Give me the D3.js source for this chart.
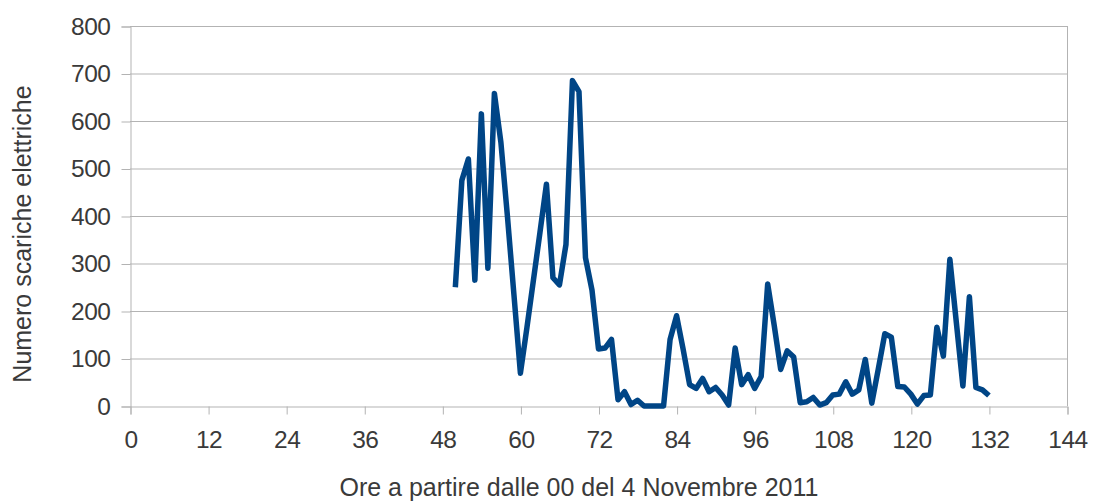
<!DOCTYPE html>
<html>
<head>
<meta charset="utf-8">
<script src="https://cdn.jsdelivr.net/npm/d3@7/dist/d3.min.js"></script>
<style>
  html, body { margin: 0; padding: 0; background: #fff; }
  svg { display: block; font-family: "Liberation Sans", Arial, sans-serif; }
</style>
</head>
<body>
<svg id="chart" width="1094" height="503"></svg>
<script>
// Hours counted from 00:00 on 4 November 2011
const hours = d3.range(50, 133);
// Number of electrical discharges per hour
const discharges = [
  250, 475, 520, 265, 615, 290, 658, 555, 400, 235,
   69, 165, 265, 365, 467, 270, 255, 340, 685, 662,
  312, 244, 120, 122, 140,  13,  30,   3,  12,   0,
    0,   0,   0, 140, 190, 120,  45,  37,  58,  30,
   39,  23,   2, 122,  45,  66,  37,  62, 257, 170,
   77, 116, 103,   7,   9,  18,   2,   7,  23,  25,
   51,  25,  34,  98,   6,  78, 152, 145,  41,  40,
   25,   4,  22,  23, 166, 105, 309, 175,  42, 230,
   39,  34,  22
];
const xTicks = d3.range(0, 145, 12);
const yTicks = d3.range(0, 801, 100);
const xTitle = "Ore a partire dalle 00 del 4 Novembre 2011";
const yTitle = "Numero scariche elettriche";

const svg = d3.select("#chart");
const plotLeft = 130, plotRight = 1067, plotTop = 26, plotBottom = 406;
const grid = "#b3b3b3", textCol = "#3a3a3a";
const tickFont = 24.5, titleFont = 25;

const x = d3.scaleLinear().domain([0, 144]).range([plotLeft, plotRight]);
const y = d3.scaleLinear().domain([0, 800]).range([plotBottom, plotTop]);

// horizontal gridlines
svg.append("g").selectAll("line").data(yTicks.filter(v => v > 0)).join("line")
  .attr("x1", plotLeft).attr("x2", plotRight)
  .attr("y1", d => y(d) + 0.5).attr("y2", d => y(d) + 0.5)
  .attr("stroke", grid).attr("stroke-width", 1);

// right edge of plot area
svg.append("line")
  .attr("x1", plotRight + 0.5).attr("x2", plotRight + 0.5)
  .attr("y1", plotTop).attr("y2", plotBottom)
  .attr("stroke", grid);

// y axis
const yAxis = svg.append("g")
  .attr("transform", `translate(${plotLeft + 0.5},0.5)`)
  .call(d3.axisLeft(y).tickValues(yTicks).tickSize(9).tickPadding(11).tickFormat(d3.format("d")));
yAxis.select(".domain").attr("stroke", grid);
yAxis.selectAll(".tick line").attr("stroke", grid);
yAxis.selectAll(".tick text")
  .attr("fill", textCol).attr("font-size", tickFont)
  .attr("font-family", "Liberation Sans, Arial, sans-serif")
  .attr("letter-spacing", -0.5);

// x axis
const xAxis = svg.append("g")
  .attr("transform", `translate(0.5,${plotBottom + 0.5})`)
  .call(d3.axisBottom(x).tickValues(xTicks).tickSize(8).tickPadding(16).tickFormat(d3.format("d")));
xAxis.select(".domain").attr("stroke", grid);
xAxis.selectAll(".tick line").attr("stroke", grid);
xAxis.selectAll(".tick text")
  .attr("fill", textCol).attr("font-size", tickFont)
  .attr("font-family", "Liberation Sans, Arial, sans-serif")
  .attr("letter-spacing", -0.5);

// data line
const line = d3.line()
  .x((d, i) => x(hours[i]))
  .y(d => y(d));
svg.append("path")
  .datum(discharges)
  .attr("d", line)
  .attr("fill", "none")
  .attr("stroke", "#004586")
  .attr("stroke-width", 5.5)
  .attr("stroke-linejoin", "round")
  .attr("stroke-linecap", "butt");

// axis titles
svg.append("text")
  .attr("transform", `translate(31,234) rotate(-90)`)
  .attr("text-anchor", "middle")
  .attr("fill", textCol).attr("font-size", titleFont)
  .text(yTitle);

svg.append("text")
  .attr("x", 579).attr("y", 496)
  .attr("text-anchor", "middle")
  .attr("fill", textCol).attr("font-size", titleFont)
  .text(xTitle);
</script>
</body>
</html>
